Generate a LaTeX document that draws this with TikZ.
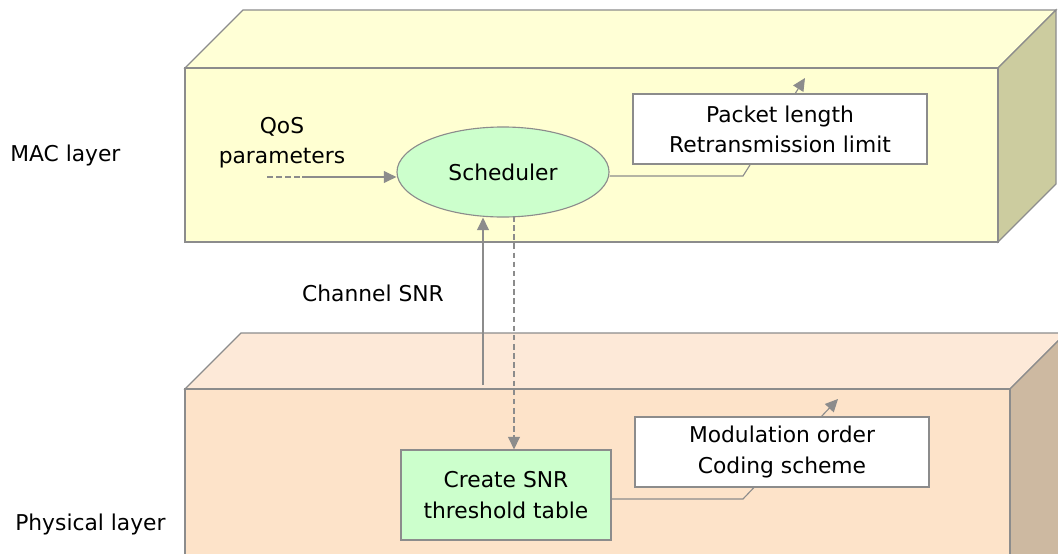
\documentclass[tikz,border=0pt]{standalone}
\usepackage{fontspec}
\setmainfont{DejaVu Sans}
\usetikzlibrary{shapes.geometric,arrows.meta}
\definecolor{macfront}{HTML}{FFFFD2}
\definecolor{mactop}{HTML}{FFFFD6}
\definecolor{macside}{HTML}{CCCC9F}
\definecolor{phyfront}{HTML}{FDE3C9}
\definecolor{phytop}{HTML}{FDE9D8}
\definecolor{physide}{HTML}{CDB9A1}
\definecolor{edgegray}{HTML}{8C8C8C}
\definecolor{schedgreen}{HTML}{CCFFCC}
\tikzset{
  face/.style={draw=edgegray,line width=0.8pt,line join=miter},
  txt/.style={font=\fontsize{15.5}{21.5}\selectfont,align=center,inner sep=0pt},
  infobox/.style={txt,draw=edgegray,fill=white,line width=0.8pt,minimum width=7.35cm,minimum height=1.75cm},
  arr/.style={draw=edgegray,line width=0.8pt,-{Triangle[length=9pt,width=8.5pt]}}
}
\begin{document}
\begin{tikzpicture}[x=0.025cm,y=-0.025cm]
\useasboundingbox (0,0) rectangle (1058,553);
\clip (0,0) rectangle (1058,553);

% MAC layer block
\filldraw [face,fill=mactop] (185,68) -- (243,10) -- (1056,10) -- (998,68) -- cycle;%
\filldraw [face,fill=macside] (998,68) -- (1056,10) -- (1056,184) -- (998,242) -- cycle;%
\filldraw [face,fill=macfront] (185,68) rectangle (998,242);%

% Physical layer block
\filldraw [face,fill=phytop] (185,389) -- (241,333) -- (1066,333) -- (1010,389) -- cycle;%
\filldraw [face,fill=physide] (1010,389) -- (1066,333) -- (1066,600) -- (1010,600) -- cycle;%
\filldraw [face,fill=phyfront] (185,389) rectangle (1010,600);%

% Layer names
\node [txt,anchor=west] (macLabel) at (10,155) {MAC layer};%
\node [txt,anchor=west] (phyLabel) at (15,524) {Physical layer};%
\node [txt] (snrLabel) at (373,293) {Channel SNR};%

% Scheduler and threshold table
\node [txt] (qos) at (282,143) {QoS\\parameters};%
\node [txt,ellipse,draw=edgegray,fill=schedgreen,line width=0.8pt,
       minimum width=5.3cm,minimum height=2.25cm] (sched) at (503,172) {Scheduler};%
\node [txt,draw=edgegray,fill=schedgreen,line width=0.8pt,
       minimum width=5.25cm,minimum height=2.25cm] (snrBox) at (506,495) {Create SNR\\threshold table};%

% Connectors
\coordinate (qosStart) at (267,177);%
\coordinate (qosDash) at (302,177);%
\draw [edgegray,line width=0.8pt,dash pattern=on 4pt off 2.5pt] (qosStart) -- (qosDash);%
\draw [arr] (qosDash) -- (qosDash -| sched.west);%

\coordinate (chUp) at (483,385);%
\draw [arr] (chUp) -- (chUp |- sched.south);%
\coordinate (chDown) at (514,216);%
\draw [arr,dash pattern=on 4pt off 2.5pt] (chDown) -- (chDown |- snrBox.north);%

\coordinate (pktBend) at (743,176);%
\coordinate (pktTip) at (805,78);%
\draw [arr] (sched.east |- pktBend) -- (pktBend) -- (pktTip);%

\coordinate (modBend) at (743,499);%
\coordinate (modTip) at (838,399);%
\draw [arr] (snrBox.east |- modBend) -- (modBend) -- (modTip);%

% Output boxes
\node [infobox] (pktBox) at (780,129) {Packet length\\Retransmission limit};%
\node [infobox] (modBox) at (782,452) {Modulation order\\Coding scheme};%
\end{tikzpicture}
\end{document}
